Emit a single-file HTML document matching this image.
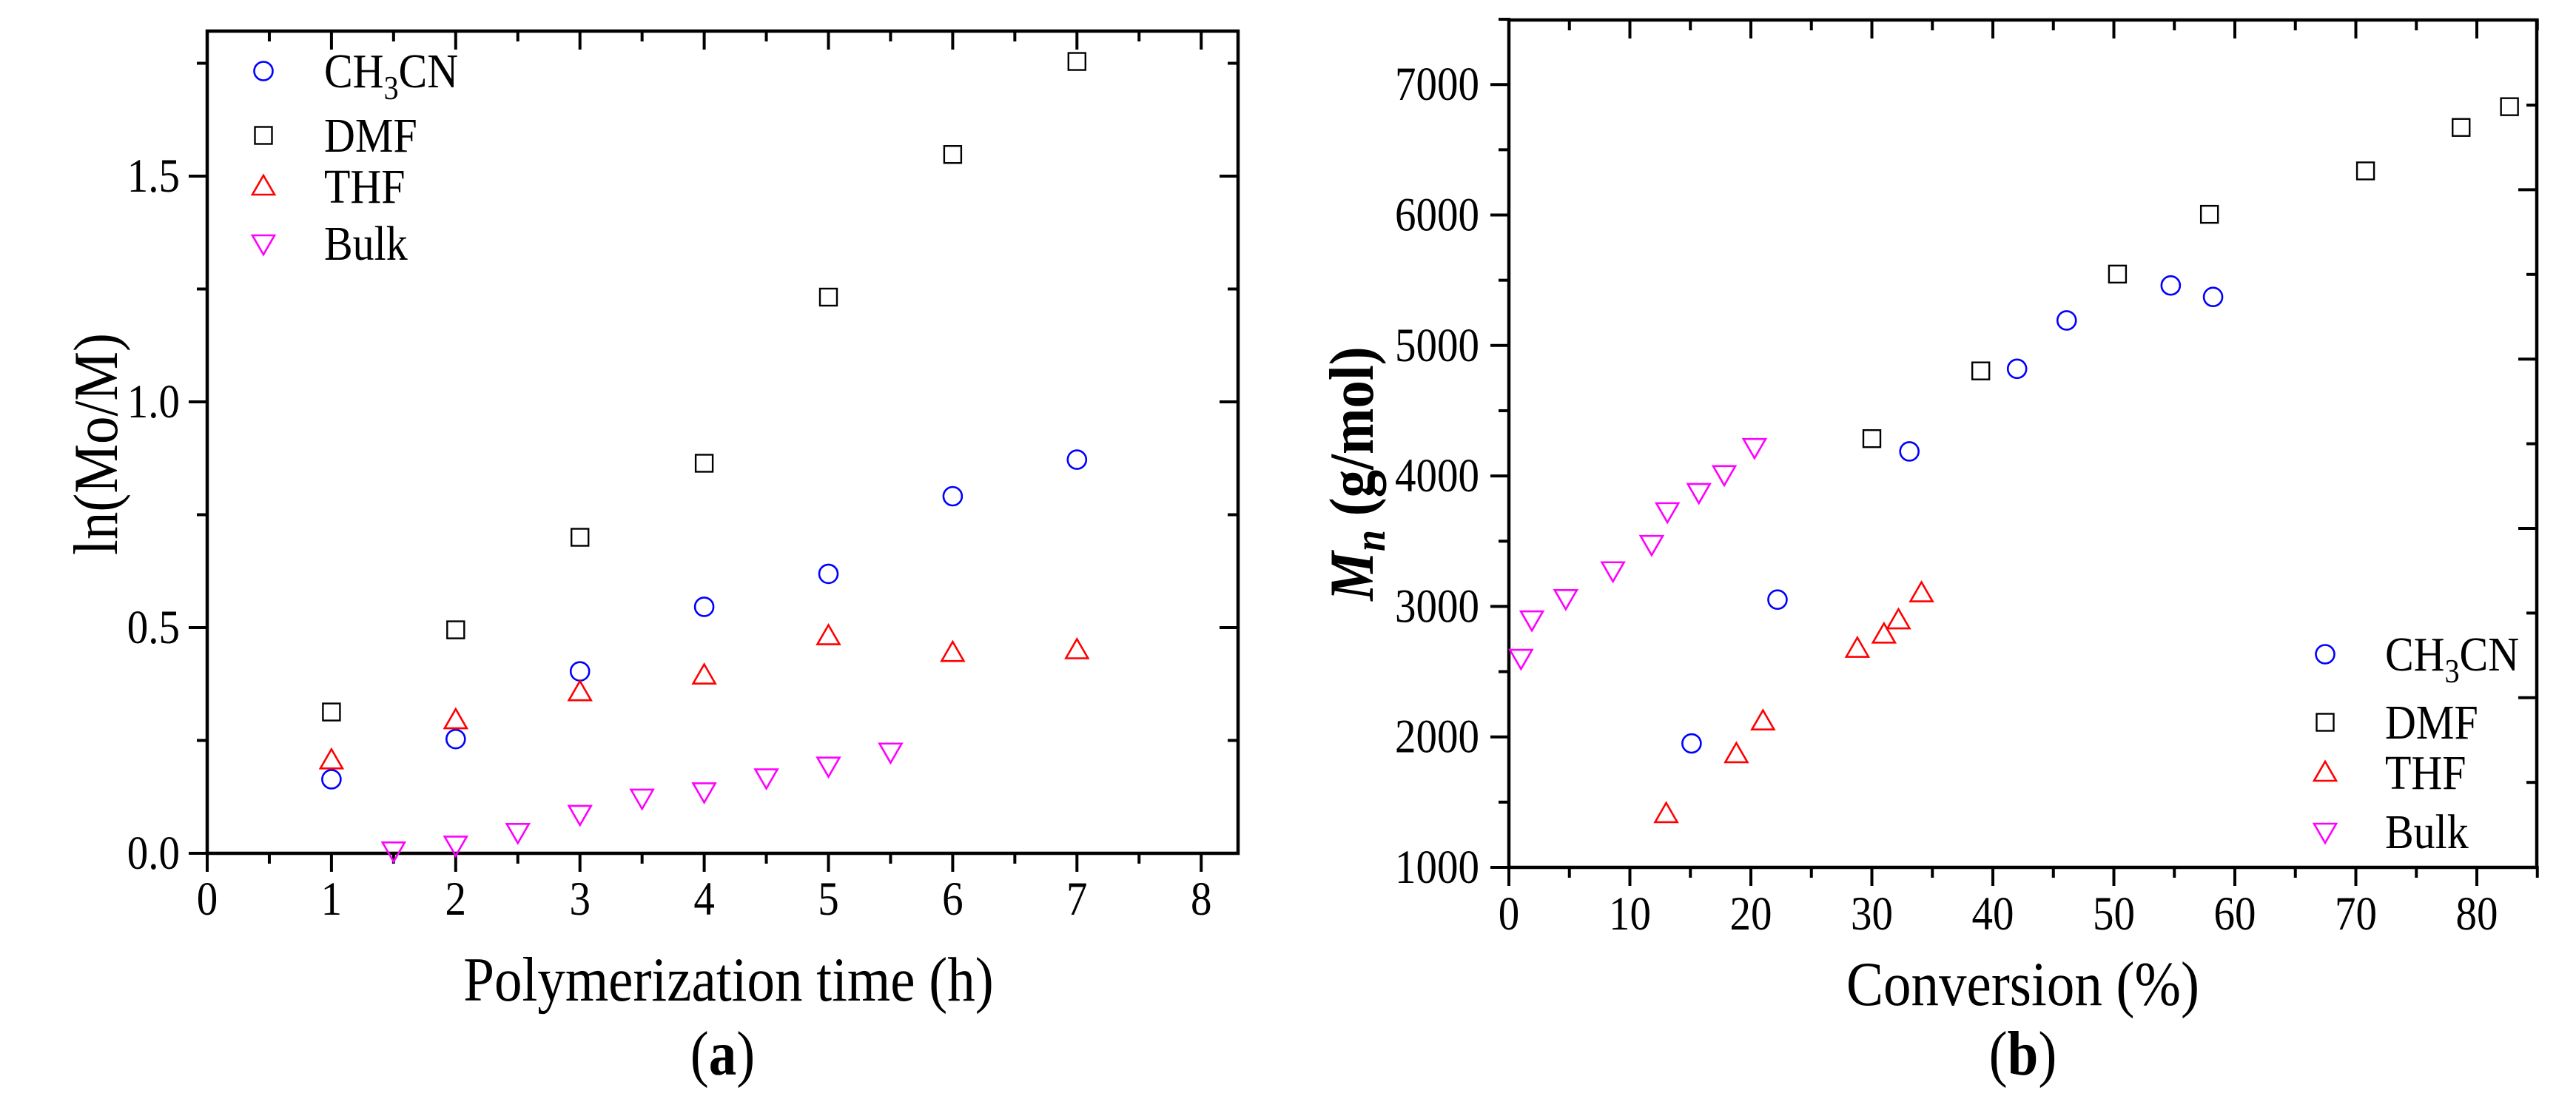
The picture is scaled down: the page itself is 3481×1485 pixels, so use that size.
<!DOCTYPE html>
<html><head><meta charset="utf-8"><style>
html,body{margin:0;padding:0;background:#fff}
svg{display:block}
svg text{font-family:"Liberation Serif","Times New Roman","DejaVu Serif",serif;fill:#000}
</style></head><body>
<svg id="fig" width="3481" height="1485" viewBox="0 0 3481 1485" xmlns="http://www.w3.org/2000/svg">
<g id="pa"></g>
<g id="pb"></g>
</svg>
<script>
// ---- Panel (a) data ----
const aTimes = [1,2,3,4,5,6,7];
const aCH3CN = [0.164,0.253,0.403,0.546,0.619,0.791,0.872];
const aDMF = [0.313,0.495,0.70,0.864,1.232,1.548,1.754];
const aTHF = [0.206,0.295,0.357,0.394,0.481,0.444,0.45];
const aBulkT = [1.5,2,2.5,3,3.5,4,4.5,5,5.5];
const aBulk = [0.006,0.019,0.047,0.087,0.123,0.137,0.168,0.194,0.225];
const aXTicks = [0,1,2,3,4,5,6,7,8];
const aYTicks = ["0.0","0.5","1.0","1.5"];
// ---- Panel (b) data ----
const bCH3CNx = [15.1,22.2,33.1,42.0,46.1,54.7,58.2];
const bCH3CNy = [1950,3052,4188,4821,5192,5460,5372];
const bDMFx = [30.0,39.0,50.3,57.9,70.8,78.7,82.7];
const bDMFy = [4286,4805,5547,6005,6338,6671,6830];
const bTHFx = [13.0,18.8,21.0,28.8,31.0,32.2,34.1];
const bTHFy = [1409,1868,2119,2676,2785,2894,3101];
const bBulkx = [1.0,1.9,4.7,8.6,11.8,13.1,15.7,17.8,20.3];
const bBulky = [2605,2900,3063,3276,3478,3729,3876,4013,4221];
const bXTicks = [0,10,20,30,40,50,60,70,80];
const bYTicks = [1000,2000,3000,4000,5000,6000,7000];

const NS="http://www.w3.org/2000/svg";
const SY=1.13;
function mk(parent,tag,attrs,text){
  const e=document.createElementNS(NS,tag);
  for(const k in attrs) e.setAttribute(k,attrs[k]);
  if(text!==undefined) e.textContent=text;
  parent.appendChild(e); return e;
}
function txt(g,x,y,size,anchor,content,rot,extra){
  const a={x:0,y:0,'font-size':size,'text-anchor':anchor,'font-family':'Liberation Serif, Times New Roman, serif',
    transform:`translate(${x},${y})`+(rot?' rotate(-90)':'')+` scale(1,${SY})`};
  if(extra) for(const k in extra) a[k]=extra[k];
  const e=mk(g,'text',a);
  if(content.indexOf('<')>=0) e.innerHTML=content; else e.textContent=content;
  return e;
}
function marker(g,type,cx,cy,name){
  let e;
  if(type==='circle'){
    e=mk(g,'circle',{cx:cx,cy:cy,r:12.5,fill:'none',stroke:'#0000ff','stroke-width':2.6});
  }else if(type==='square'){
    e=mk(g,'rect',{x:cx-11.5,y:cy-11.5,width:23,height:23,fill:'none',stroke:'#000','stroke-width':2.4});
  }else if(type==='up'){
    e=mk(g,'polygon',{points:`${cx},${cy-15} ${cx+15},${cy+11} ${cx-15},${cy+11}`,fill:'none',stroke:'#ff0000','stroke-width':2.6});
  }else{
    e=mk(g,'polygon',{points:`${cx-15},${cy-11} ${cx+15},${cy-11} ${cx},${cy+15}`,fill:'none',stroke:'#ff00ff','stroke-width':2.6});
  }
  
  
  return e;
}
function line(g,x1,y1,x2,y2,w){return mk(g,'line',{x1:x1,y1:y1,x2:x2,y2:y2,stroke:'#000','stroke-width':w||4,'stroke-linecap':'square'});}
const CH3='CH<tspan font-size="40" dy="14">3</tspan><tspan dy="-14">CN</tspan>';

// ===== Panel A =====
(function(){
  const g=document.getElementById('pa');
  const L=280,R=1673,T=42,B=1153;
  const X=v=>L+v*167.9, Y=v=>B-v*610;
  const frame=mk(g,'rect',{x:L,y:T,width:R-L,height:B-T,fill:'none',stroke:'#000','stroke-width':4.5});
  
  
  for(let v=0;v<=8;v+=0.5){
    const major=Number.isInteger(v), x=X(v), len=major?23:12;
    line(g,x,B,x,B+len,4); line(g,x,T,x,T+len,4);
  }
  aXTicks.forEach(v=>{
    const t=txt(g,X(v),1236,57,'middle',String(v));
    
    
  });
  for(let v=0;v<=1.75001;v+=0.25){
    const major=Math.abs(v*2-Math.round(v*2))<1e-6, y=Y(v), len=major?23:12;
    line(g,L-len,y,L,y,4); line(g,R-len,y,R,y,4);
  }
  aYTicks.forEach(s=>{
    const t=txt(g,243,Y(parseFloat(s))+21,57,'end',s);
    
    
  });
  aTimes.forEach((t,i)=>marker(g,'square',X(t),Y(aDMF[i]),'dmf-point-a'));
  aTimes.forEach((t,i)=>marker(g,'circle',X(t),Y(aCH3CN[i]),'ch3cn-point-a'));
  aTimes.forEach((t,i)=>marker(g,'up',X(t),Y(aTHF[i]),'thf-point-a'));
  aBulkT.forEach((t,i)=>marker(g,'down',X(t),Y(aBulk[i]),'bulk-point-a'));
  const ly=[96,183,252,329], types=['circle','square','up','down'];
  const names=['ch3cn','dmf','thf','bulk'];
  ly.forEach((y,i)=>marker(g,types[i],356,y,'legend-marker-'+names[i]+'-a'));
  let t=txt(g,438,96+22,58,'start',CH3);
  
  [['DMF',183,'dmf'],['THF',252,'thf'],['Bulk',329,'bulk']].forEach(a=>{
    const e=txt(g,438,a[1]+22,58,'start',a[0]);
    
  });
  t=txt(g,(L+R)/2+8,1352,75,'middle','Polymerization time (h)');
  
  t=txt(g,158,600,75,'middle','ln(Mo/M)',true);
  
  t=txt(g,(L+R)/2,1452,75,'middle','(<tspan font-weight="bold">a</tspan>)');
  
})();

// ===== Panel B =====
(function(){
  const g=document.getElementById('pb');
  const L=2039,R=3428,T=27,B=1172;
  const X=v=>L+v*16.35, Y=v=>B-(v-1000)*0.1763;
  const frame=mk(g,'rect',{x:L,y:T,width:R-L,height:B-T,fill:'none',stroke:'#000','stroke-width':4.5});
  
  
  for(let v=0;v<=85;v+=5){
    const major=v%10===0, x=X(v), len=major?23:12;
    line(g,x,B,x,B+len,4); line(g,x,T,x,T+len,4);
  }
  bXTicks.forEach(v=>{
    const t=txt(g,X(v),1256,57,'middle',String(v));
    
  });
  for(let v=1000;v<=7500;v+=500){
    const major=v%1000===0, y=Y(v), len=major?23:12;
    line(g,L-len,y,L,y,4);
  }
  for(let k=0;k<9;k++){
    const y=142+k*114.4, len=(k%2===1)?23:12;
    line(g,R-len,y,R,y,4);
  }
  bYTicks.forEach(v=>{
    const t=txt(g,1999,Y(v)+21,57,'end',String(v));
    
  });
  bDMFx.forEach((x,i)=>marker(g,'square',X(x),Y(bDMFy[i]),'dmf-point-b'));
  bCH3CNx.forEach((x,i)=>marker(g,'circle',X(x),Y(bCH3CNy[i]),'ch3cn-point-b'));
  bTHFx.forEach((x,i)=>marker(g,'up',X(x),Y(bTHFy[i]),'thf-point-b'));
  bBulkx.forEach((x,i)=>marker(g,'down',X(x),Y(bBulky[i]),'bulk-point-b'));
  const ly=[884,976,1044,1124], types=['circle','square','up','down'];
  const names=['ch3cn','dmf','thf','bulk'];
  ly.forEach((y,i)=>marker(g,types[i],3142,y,'legend-marker-'+names[i]+'-b'));
  let t=txt(g,3223,884+22,58,'start',CH3);
  
  [['DMF',976,'dmf'],['THF',1044,'thf'],['Bulk',1124,'bulk']].forEach(a=>{
    const e=txt(g,3223,a[1]+22,58,'start',a[0]);
    
  });
  t=txt(g,(L+R)/2,1358,75,'middle','Conversion (%)');
  
  t=txt(g,1855,640,75,'middle','<tspan font-style="italic">M</tspan><tspan font-style="italic" font-size="52" dy="14">n</tspan><tspan dy="-14"> (g/mol)</tspan>',true,{'font-weight':'bold'});
  
  t=txt(g,(L+R)/2,1452,75,'middle','(<tspan font-weight="bold">b</tspan>)');
  
})();
</script>
</body></html>
